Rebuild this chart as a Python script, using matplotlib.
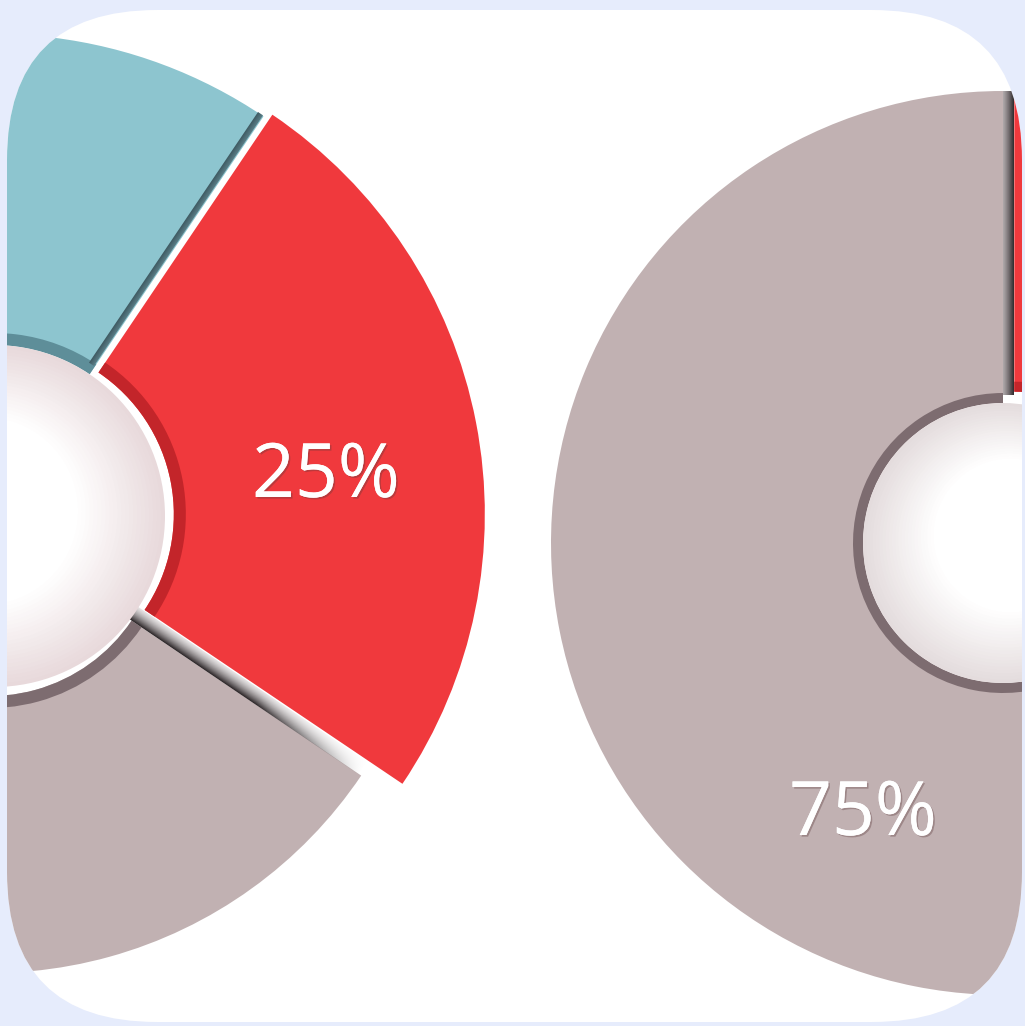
import matplotlib
matplotlib.use("Agg")
import matplotlib.pyplot as plt
import matplotlib.patches as mpatches
import matplotlib.patheffects as pe
from matplotlib.transforms import Affine2D
from matplotlib.colors import to_rgb
import numpy as np

W, H = 1025, 1026

# left donut, counter-clockwise from the lower edge of the red slice
left_values = [25, 30, 45]
left_colors = ["#f0393d", "#8dc5cf", "#c1b1b2"]
left_walls = ["#c3252a", "#5e8e99", "#7d6c70"]
left_explode = [9, 0, 10]
left_radius = [482, 482, 448]   # grey sits lower in the picture, looks smaller
left_label = "25%"

# right donut, red first quarter then the big grey part
right_values = [25, 75]
right_colors = ["#f0393d", "#c1b1b2"]
right_walls = ["#c3252a", "#7d6c70"]
right_explode = [16, 0]
right_radius = [452, 452]
right_label = "75%"


def donut(ax, values, colors, walls, explode, center, radii, r_in, wall, start, clip):
    # one pie call per slice so each slice can keep its own outer radius
    for i in range(len(values)):
        cols = [c if j == i else "none" for j, c in enumerate(colors)]
        wedges, _ = ax.pie(values, colors=cols, explode=explode, center=center,
                           radius=radii[i], startangle=start, counterclock=True,
                           wedgeprops=dict(width=radii[i] - r_in, linewidth=0))
        for w in wedges:
            w.set_clip_on(True)
            w.set_clip_path(clip)
    # darker inner side wall of every slice
    inner, _ = ax.pie(values, colors=walls, explode=explode, center=center,
                      radius=r_in + wall, startangle=start, counterclock=True,
                      wedgeprops=dict(width=wall, linewidth=0))
    for w in inner:
        w.set_clip_on(True)
        w.set_clip_path(clip)


def ball(ax, center, r, edge, light, clip):
    # white hole drawn as stacked circles -> soft radial gradient
    cx, cy = center
    e = np.array(to_rgb(edge))
    n = 45
    for i in range(n):
        t = i / (n - 1)
        rr = r * (1 - 0.9 * t)
        x = cx + (light[0] - cx) * t
        y = cy + (light[1] - cy) * t
        col = e + (np.ones(3) - e) * min(1, t * 2.0)
        c = mpatches.Circle((x, y), rr, facecolor=col, lw=0, zorder=3)
        c.set_clip_path(clip)
        ax.add_patch(c)


def wall_strip(ax, center, ang_deg, off, r0, r1, width, dark, light,
               a_dark, a_light, fade_from, clip):
    # side wall of a slice: small rotated gradient image along the slice edge
    n, m = 200, 24
    u = np.linspace(0, 1, n)
    v = np.linspace(0, 1, m)[:, None]          # 0 = dark side, 1 = light side
    c0, c1 = np.array(to_rgb(dark)), np.array(to_rgb(light))
    img = np.zeros((m, n, 4))
    img[..., :3] = (c0 + (c1 - c0) * v[..., None]) * np.ones((m, n, 1))
    along = np.clip((1 - u) / (1 - fade_from), 0, 1) if fade_from < 1 else np.ones(n)
    across = a_dark + (a_light - a_dark) * v
    img[..., 3] = across * along[None, :]
    im = ax.imshow(img, extent=(r0, r1, -width / 2, width / 2), origin="lower",
                   interpolation="bilinear", zorder=2.5)
    a = np.deg2rad(ang_deg)
    base = np.array(center) + np.array([-np.sin(a), np.cos(a)]) * off
    im.set_transform(Affine2D().rotate_deg(ang_deg).translate(*base) + ax.transData)
    im.set_clip_path(clip)


fig = plt.figure(figsize=(W / 100, H / 100), dpi=100)
fig.patch.set_facecolor("#e6ecfc")
ax = fig.add_axes([0, 0, 1, 1])

card = mpatches.FancyBboxPatch((7, H - 1022), 1015, 1012,
                               boxstyle="round,pad=0,rounding_size=150",
                               facecolor="white", edgecolor="none", zorder=0)
ax.add_patch(card)

# ---- left donut
lc_ = (-6, H - 516)
donut(ax, left_values, left_colors, left_walls, left_explode, lc_,
      left_radius, 171, 12, -34, card)
ball(ax, lc_, 171, "#e8d9db", (lc_[0] - 20, lc_[1] + 10), card)

# grey side wall between red and grey
wall_strip(ax, lc_, -34, -3, 168, 448, 15, "#2b2527", "#b9b1b3",
           1.0, 0.35, 0.55, card)
# cyan side wall between cyan and red
wall_strip(ax, lc_, 56, 3.5, 180, 482, 6, "#5a7e87", "#3f5a62",
           1.0, 1.0, 1.0, card)

# ---- right donut
rc_ = (1003, H - 543)
donut(ax, right_values, right_colors, right_walls, right_explode, rc_,
      right_radius, 140, 10, 0, card)
ball(ax, rc_, 140, "#e4dcdd", (rc_[0] + 15, rc_[1] + 15), card)
wall_strip(ax, rc_, 90, -5.5, 148, 452, 11, "#2f2a2c", "#7a6f72",
           1.0, 0.6, 1.0, card)

shadow = [pe.withSimplePatchShadow(offset=(1.2, -1.2), shadow_rgbFace="#5a3a3c",
                                   alpha=0.35), pe.Normal()]
ax.text(326, H - 497, left_label, ha="center", va="baseline", color="white",
        fontsize=54, family="Open Sans", zorder=6, path_effects=shadow)
ax.text(863, H - 835, right_label, ha="center", va="baseline", color="white",
        fontsize=54, family="Open Sans", zorder=6, path_effects=shadow)

ax.set_xlim(0, W)
ax.set_ylim(0, H)
ax.set_aspect("equal")
ax.axis("off")

fig.savefig("out.png", dpi=100, facecolor=fig.get_facecolor())
